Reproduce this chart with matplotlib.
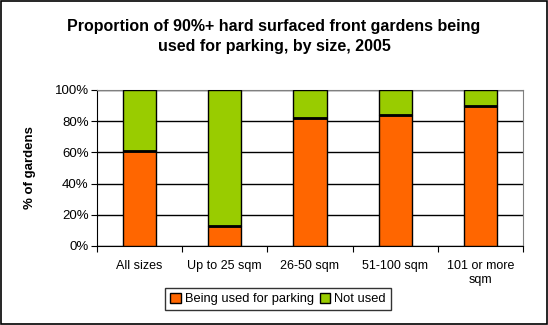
import numpy as np
import matplotlib.pyplot as plt
from matplotlib.patches import Rectangle

plt.rcParams['font.family'] = ['Liberation Sans', 'DejaVu Sans']

categories = ["All sizes", "Up to 25 sqm", "26-50 sqm", "51-100 sqm", "101 or more\nsqm"]
parking = [61, 13, 82, 84, 90]
not_used = [100 - p for p in parking]
yticks = [0, 20, 40, 60, 80, 100]

fig = plt.figure(figsize=(5.48, 3.25), dpi=100)
fig.patch.set_facecolor("white")
fig.add_artist(Rectangle((0.001, 0.004), 0.997, 0.993, transform=fig.transFigure,
                         fill=False, edgecolor="black", linewidth=1.2))

ax = fig.add_axes([97 / 548, 1 - 246 / 325, 426 / 548, 156 / 325])
x = np.arange(len(categories))
w = 0.39
ax.bar(x, parking, w, color="#ff6600", edgecolor="black", linewidth=1.0,
       label="Being used for parking", zorder=3)
ax.bar(x, not_used, w, bottom=parking, color="#99cc00", edgecolor="black",
       linewidth=1.0, label="Not used", zorder=3)
# thicker divider between the two segments
ax.hlines(parking, x - w / 2, x + w / 2, colors="black", linewidth=2.0, zorder=4)

ax.set_xlim(-0.5, len(categories) - 0.5)
ax.set_ylim(0, 100)
ax.set_yticks(yticks)
ax.set_yticklabels([f"{t}%" for t in yticks], fontsize=9.5)
ax.set_xticks(np.arange(len(categories) + 1) - 0.5, minor=False)
ax.set_xticklabels([])
ax.set_xticks(x, minor=True)
ax.set_xticklabels(categories, minor=True, fontsize=9)
ax.tick_params(axis="x", which="major", length=4, direction="out")
ax.tick_params(axis="x", which="minor", length=0, pad=10)
ax.tick_params(axis="y", length=4, direction="out", pad=2)
ax.yaxis.grid(True, color="black", linewidth=1.0, zorder=0)
ax.set_axisbelow(True)
for side in ("top", "right"):
    ax.spines[side].set_color("#808080")
for side in ("left", "bottom"):
    ax.spines[side].set_color("black")

ax.set_ylabel("% of gardens", fontsize=9.5, fontweight="bold", labelpad=13)

fig.text(0.5, 0.94, "Proportion of 90%+ hard surfaced front gardens being\nused for parking, by size, 2005",
         ha="center", va="top", fontsize=11.5, fontweight="bold", linespacing=1.4)

leg = fig.legend(loc="center", bbox_to_anchor=(278 / 548, 1 - 299 / 325), ncol=2,
                 fontsize=9.3, frameon=True, fancybox=False, edgecolor="black",
                 handlelength=0.8, handleheight=0.8, handletextpad=0.3,
                 columnspacing=0.5, borderpad=0.4, borderaxespad=0)
leg.get_frame().set_linewidth(1.0)

fig.savefig("out.png", dpi=100)
